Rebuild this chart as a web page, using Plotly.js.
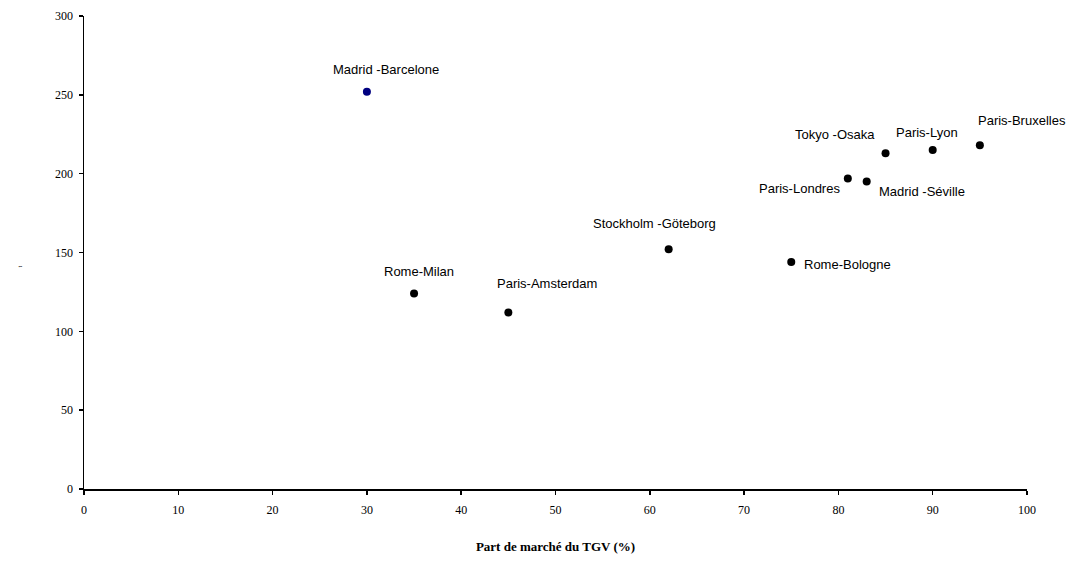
<!DOCTYPE html>
<html>
<head>
<meta charset="utf-8">
<script src="https://cdn.plot.ly/plotly-3.0.1.min.js"></script>
<style>html,body{margin:0;padding:0;background:#fff;}#chart{width:1069px;height:582px;}</style>
</head>
<body>
<div id="chart"></div>
<script>
const routes = ["Madrid-Barcelone","Rome-Milan","Paris-Amsterdam","Stockholm-Göteborg","Rome-Bologne","Paris-Londres","Madrid-Séville","Tokyo-Osaka","Paris-Lyon","Paris-Bruxelles"];
const labels = ["Madrid -Barcelone","Rome-Milan","Paris-Amsterdam","Stockholm -Göteborg","Rome-Bologne","Paris-Londres","Madrid -Séville","Tokyo -Osaka","Paris-Lyon","Paris-Bruxelles"];
const partMarche = [30, 35, 45, 62, 75, 81, 83, 85, 90, 95];
const valeurs = [252, 124, 112, 152, 144, 197, 195, 213, 215, 218];
const xTicks = [0,10,20,30,40,50,60,70,80,90,100];
const yTicks = [0,50,100,150,200,250,300];
const yTitle = "t";
const xTitle = "Part de marché du TGV (%)";

// label offsets (pixels) relative to each point: style only
const labelShiftX = [19, 5, 39, -14, 56, -48, 55, -51, -6, 42];
const labelShiftY = [22, 22, 29, 26, -3, -10, -10, 19, 18, 25];

const markerColors = routes.map((r, i) => i === 0 ? "#000080" : "#000000");

const trace = {
  x: partMarche,
  y: valeurs,
  text: routes,
  type: "scatter",
  mode: "markers",
  marker: {size: 8, color: markerColors, line: {width: 0}},
  hoverinfo: "text+x+y"
};

const annotations = labels.map((t, i) => ({
  x: partMarche[i], y: valeurs[i], xref: "x", yref: "y",
  text: t, showarrow: false,
  xshift: labelShiftX[i], yshift: labelShiftY[i],
  font: {family: "Liberation Sans, Arial, sans-serif", size: 13, color: "#000"}
}));

annotations.push({
  xref: "paper", yref: "paper", x: 0, y: 0.5, xshift: -70, yshift: -14,
  text: yTitle, textangle: -90, showarrow: false,
  font: {family: "Liberation Serif, Times New Roman, serif", size: 6, color: "#000"}
});

const layout = {
  width: 1069, height: 582,
  margin: {l: 84, r: 42, t: 16, b: 93},
  paper_bgcolor: "#fff", plot_bgcolor: "#fff",
  showlegend: false,
  xaxis: {
    range: [0, 100], tickvals: xTicks, ticktext: xTicks.map(String),
    showgrid: false, zeroline: false, showline: true, linecolor: "#000", linewidth: 1.5,
    ticks: "outside", ticklen: 4, tickcolor: "#000", tickwidth: 1.5,
    ticklabelstandoff: 5,
    tickfont: {family: "Liberation Serif, Times New Roman, serif", size: 12, color: "#000"},
    title: {text: "<b>" + xTitle + "</b>", standoff: 26,
      font: {family: "Liberation Serif, Times New Roman, serif", size: 13, color: "#000"}},
    automargin: false, fixedrange: true
  },
  yaxis: {
    range: [0, 300], tickvals: yTicks, ticktext: yTicks.map(String),
    showgrid: false, zeroline: false, showline: true, linecolor: "#000", linewidth: 1.5,
    ticks: "outside", ticklen: 4, tickcolor: "#000", tickwidth: 1.5,
    ticklabelstandoff: 3,
    tickfont: {family: "Liberation Serif, Times New Roman, serif", size: 12, color: "#000"},
    automargin: false, fixedrange: true
  },
  annotations: annotations
};

Plotly.newPlot("chart", [trace], layout, {displayModeBar: false, staticPlot: true});
</script>
</body>
</html>
